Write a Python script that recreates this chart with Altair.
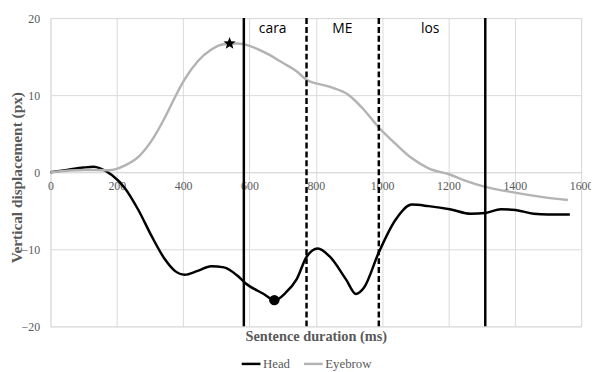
import math
import altair as alt
import pandas as pd

# ---- data ----
head_ms = [0, 50, 100, 130, 150, 186, 225, 265, 305, 345, 375, 404, 444, 484, 523, 563, 588, 643, 676, 710, 742, 772, 806, 841, 891, 921, 945, 990, 1040, 1090, 1140, 1204, 1268, 1311, 1358, 1402, 1457, 1500, 1566]
head_px = [0, 0.3, 0.6, 0.7, 0.5, -0.4, -2.1, -4.9, -8.3, -11.3, -12.8, -13.3, -12.8, -12.2, -12.35, -13.4, -14.4, -15.8, -16.6, -15.6, -13.9, -11.0, -9.9, -10.9, -13.9, -15.8, -15.0, -10.4, -6.2, -4.2, -4.4, -4.8, -5.4, -5.3, -4.8, -4.9, -5.4, -5.5, -5.5]

brow_ms = [0, 100, 176, 225, 265, 305, 345, 375, 404, 444, 484, 523, 563, 600, 643, 700, 742, 772, 841, 900, 941, 990, 1040, 1090, 1140, 1204, 1250, 1311, 1400, 1480, 1560]
brow_px = [0, 0.3, 0.25, 0.9, 2.0, 4.1, 7.1, 9.7, 12.0, 14.4, 15.9, 16.6, 16.7, 16.4, 15.6, 14.2, 13.1, 12.0, 11.1, 10.0, 8.3, 5.8, 3.7, 1.8, 0.5, -0.3, -1.1, -1.9, -2.65, -3.2, -3.6]

solid_ms = [583, 1311]
dashed_ms = [772, 990]

word_labels = ["cara", "ME", "los"]
word_ms = [670, 880, 1145]
word_y = [18.6, 18.6, 18.6]

star_ms = [540]
star_px = [16.7]
dot_ms = [675]
dot_px = [-16.6]

x_ticks = [0, 200, 400, 600, 800, 1000, 1200, 1400, 1600]
y_ticks = [-20, -15, -10, -5, 0, 5, 10, 15, 20]

series_names = ["Head", "Eyebrow"]
series_colors = ["#000000", "#b3b3b3"]

# ---- tables ----
lines = pd.concat([
    pd.DataFrame({"ms": head_ms, "px": head_px, "series": "Head"}),
    pd.DataFrame({"ms": brow_ms, "px": brow_px, "series": "Eyebrow"}),
], ignore_index=True)

# star symbol path
pts = []
for i in range(10):
    r = 1.0 if i % 2 == 0 else 0.42
    a = -math.pi / 2 + i * math.pi / 5
    pts.append(f"{r*math.cos(a):.3f},{r*math.sin(a):.3f}")
star_path = "M" + "L".join(pts) + "Z"

serif = "Liberation Serif"
gray = "#595959"

xscale = alt.Scale(domain=[0, 1600], nice=False, zero=False)
yscale = alt.Scale(domain=[-20, 20], nice=False)

xaxis = alt.Axis(values=x_ticks, format="d", title="Sentence duration (ms)", offset=-156,
                 grid=True, gridColor="#d9d9d9", ticks=False,
                 domainColor="#d9d9d9", labelFont=serif, labelFontSize=12,
                 labelColor=gray, labelPadding=8, titleFont=serif,
                 titleFontSize=14.5, titleFontWeight="bold", titleColor=gray,
                 titleY=166, titleBaseline="middle", labelFlush=False)
yaxis = alt.Axis(values=y_ticks, format="d", title="Vertical displacement (px)", grid=True,
                 gridColor="#d9d9d9", ticks=False, domain=False,
                 labelFont=serif, labelFontSize=12, labelColor=gray,
                 labelPadding=11, titleFont=serif, titleFontSize=15.5,
                 titleFontWeight="bold", titleColor=gray,
                 titleX=-34, titleY=161, titleBaseline="middle")

line_layer = alt.Chart(lines).mark_line(strokeWidth=2.5, interpolate="monotone").encode(
    x=alt.X("ms:Q", scale=xscale, axis=xaxis),
    y=alt.Y("px:Q", scale=yscale, axis=yaxis),
    color=alt.Color("series:N", scale=alt.Scale(domain=series_names, range=series_colors),
                    legend=alt.Legend(title=None, orient="none", legendX=192, legendY=339,
                                      direction="horizontal", symbolType="stroke",
                                      symbolStrokeWidth=2.5, symbolSize=360,
                                      labelFont=serif, labelFontSize=13, labelColor=gray,
                                      columnPadding=8, labelOffset=1)),
    detail="series:N",
)

solid = alt.Chart(pd.DataFrame({"ms": solid_ms})).mark_rule(color="black", strokeWidth=2.5).encode(
    x=alt.X("ms:Q", scale=xscale))
dashed = alt.Chart(pd.DataFrame({"ms": dashed_ms})).mark_rule(
    color="black", strokeWidth=2.5, strokeDash=[6, 3]).encode(x=alt.X("ms:Q", scale=xscale))

words = alt.Chart(pd.DataFrame({"w": word_labels, "ms": word_ms, "y": word_y})).mark_text(
    font="Open Sans", fontSize=14, color="black", align="center", baseline="middle").encode(
    x=alt.X("ms:Q", scale=xscale), y=alt.Y("y:Q", scale=yscale), text="w:N")

star = alt.Chart(pd.DataFrame({"ms": star_ms, "px": star_px})).mark_point(
    shape=star_path, filled=True, color="black", size=170, opacity=1).encode(
    x=alt.X("ms:Q", scale=xscale), y=alt.Y("px:Q", scale=yscale))

dot = alt.Chart(pd.DataFrame({"ms": dot_ms, "px": dot_px})).mark_circle(
    color="black", size=110, opacity=1).encode(
    x=alt.X("ms:Q", scale=xscale), y=alt.Y("px:Q", scale=yscale))

chart = alt.layer(line_layer, solid, dashed, words, star, dot).properties(
    width=537, height=312,
    autosize=alt.AutoSizeParams(type="none"),
    padding={"left": 43, "top": 8, "right": 10, "bottom": 44},
).configure_view(stroke=None).configure(background="white")

chart.save("out.html", embed_options={"renderer": "svg", "actions": False})
